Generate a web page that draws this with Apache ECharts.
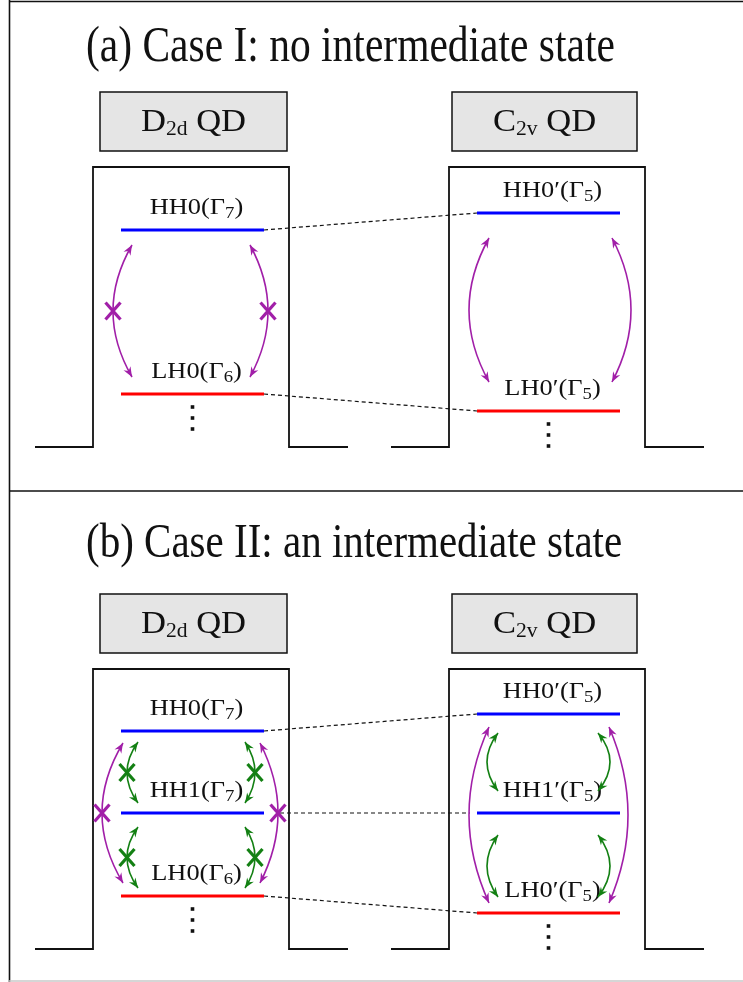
<!DOCTYPE html>
<html>
<head>
<meta charset="utf-8">
<script src="https://cdn.jsdelivr.net/npm/echarts@6/dist/echarts.min.js"></script>
<style>
  html, body { margin: 0; padding: 0; background: #fff; }
  #chart { width: 743px; height: 982px; }
</style>
</head>
<body>
<div id="chart"></div>
<script>
// ---- content ----
const panelTitles = ['(a) Case I: no intermediate state', '(b) Case II: an intermediate state'];
const wellGroup = ['D', 'C'];
const wellGroupSub = ['2d', '2v'];

// confined hole levels: panel, well (0 = D2d, 1 = C2v), name, irreducible rep index, depth
const levelPanel = [0, 0, 0, 0, 1, 1, 1, 1, 1, 1];
const levelWell  = [0, 0, 1, 1, 0, 0, 0, 1, 1, 1];
const levelName  = ['HH0', 'LH0', 'HH0\u2032', 'LH0\u2032', 'HH0', 'HH1', 'LH0', 'HH0\u2032', 'HH1\u2032', 'LH0\u2032'];
const levelGamma = ['7', '6', '5', '5', '7', '7', '6', '5', '5', '5'];
const levelDepth = [230, 394, 213, 411, 229, 311, 394, 212, 311, 411];

// correlation between D2d and C2v levels: [from level, to level, start x, end x]
const connectors = [[0, 2, 264, 477], [1, 3, 264, 477], [4, 7, 264, 477], [5, 8, 280, 470], [6, 9, 264, 477]];

// optical couplings: [panel, tip x, upper tip depth, lower tip depth, arc extreme x, family, forbidden]
const couplings = [
  [0, 132, 245, 377, 113, 'p', 1],
  [0, 250, 245, 377, 268, 'p', 1],
  [0, 489, 238, 382, 469, 'p', 0],
  [0, 612, 238, 382, 631, 'p', 0],
  [1, 138, 240, 301, 127, 'g', 1],
  [1, 138, 325, 386, 127, 'g', 1],
  [1, 245, 240, 301, 255, 'g', 1],
  [1, 245, 325, 386, 255, 'g', 1],
  [1, 123, 241, 381, 102, 'p', 1],
  [1, 260, 241, 381, 278, 'p', 1],
  [1, 498, 231, 289, 487, 'g', 0],
  [1, 498, 333, 395, 487, 'g', 0],
  [1, 598, 231, 289, 610, 'g', 0],
  [1, 598, 333, 395, 610, 'g', 0],
  [1, 489, 225, 401, 469, 'p', 0],
  [1, 609, 225, 401, 628, 'p', 0]
];

// ---- layout & style ----
const W = 743, H = 982;
const panelOffset = [0, 502];
const wellLeft = [93, 449];
const wellWidth = 196;
const wellTop = 167, wellBottom = 447;
const barrierLeft = 58, barrierRight = 59;
const boxLeft = [100, 452], boxRight = [287, 637], boxTop = 92, boxBottom = 151;
const levelInset = 28, levelLength = 143;
const COLORS = { HH: '#0000ff', LH: '#ff0000', p: '#a11fa8', g: '#138013' };
const SERIF = '"Liberation Serif", "Times New Roman", serif';

function seg(api, a, b, style) {
  const p = api.coord(a), q = api.coord(b);
  return { type: 'line', shape: { x1: p[0], y1: p[1], x2: q[0], y2: q[1] }, style: style };
}

function arrowHead(tip, from, color) {
  const dx = tip[0] - from[0], dy = tip[1] - from[1];
  const L = Math.hypot(dx, dy) || 1;
  const ux = dx / L, uy = dy / L, nx = -uy, ny = ux;
  const len = 10, half = 4, notch = 6.8;
  const bx = tip[0] - ux * len, by = tip[1] - uy * len;
  return {
    type: 'polygon',
    shape: { points: [tip, [bx + nx * half, by + ny * half], [tip[0] - ux * notch, tip[1] - uy * notch], [bx - nx * half, by - ny * half]] },
    style: { fill: color }
  };
}

const chart = echarts.init(document.getElementById('chart'), null, { renderer: 'canvas' });

const option = {
  animation: false,
  backgroundColor: '#ffffff',
  grid: { left: 0, right: 0, top: 0, bottom: 0 },
  xAxis: { type: 'value', min: 0, max: W, show: false },
  yAxis: { type: 'value', min: 0, max: H, inverse: true, show: false },
  series: [
    // outer frame and panel divider
    {
      type: 'custom', silent: true, clip: false, data: [[0, 0]],
      renderItem: function (params, api) {
        const s = { stroke: '#111', lineWidth: 1.6 };
        return {
          type: 'group', children: [
            seg(api, [9.5, 0], [9.5, H], s),
            seg(api, [9, 1.5], [W, 1.5], s),
            seg(api, [9, 491], [W, 491], s),
            seg(api, [9, 981], [W, 981], { stroke: '#c8c8c8', lineWidth: 1.5 })
          ]
        };
      }
    },
    // panel titles
    {
      type: 'custom', silent: true, clip: false, data: panelTitles.map(function (t, i) { return [i, 0]; }),
      renderItem: function (params, api) {
        const i = params.dataIndex;
        const p = api.coord([86, 48 + panelOffset[i] - (i ? 6 : 0)]);
        return {
          type: 'text', x: p[0], y: p[1], scaleY: 1.2,
          style: { text: panelTitles[i], font: (i ? '41px ' : '41.5px ') + SERIF, fill: '#111', align: 'left', verticalAlign: 'middle' }
        };
      }
    },
    // symmetry boxes
    {
      type: 'custom', silent: true, clip: false,
      data: [[0, 0], [0, 1], [1, 0], [1, 1]],
      renderItem: function (params, api) {
        const panel = api.value(0), w = api.value(1), off = panelOffset[panel];
        const a = api.coord([boxLeft[w], boxTop + off]), b = api.coord([boxRight[w], boxBottom + off]);
        const c = api.coord([(boxLeft[w] + boxRight[w]) / 2, (boxTop + boxBottom) / 2 + off]);
        return {
          type: 'group', children: [
            { type: 'rect', shape: { x: a[0], y: a[1], width: b[0] - a[0], height: b[1] - a[1] }, style: { fill: '#e5e5e5', stroke: '#111', lineWidth: 1.5 } },
            {
              type: 'text', x: c[0], y: c[1] + 1, scaleX: 1.08,
              style: {
                text: '{b|' + wellGroup[w] + '}{s|' + wellGroupSub[w] + '}{b| QD}',
                align: 'center', verticalAlign: 'middle',
                rich: {
                  b: { fontFamily: SERIF, fontSize: 32, lineHeight: 35, verticalAlign: 'middle', fill: '#111' },
                  s: { fontFamily: SERIF, fontSize: 20, lineHeight: 20, verticalAlign: 'bottom', fill: '#111' }
                }
              }
            }
          ]
        };
      }
    },
    // quantum wells (confinement potential profile)
    {
      type: 'custom', silent: true, clip: false,
      data: [[0, 0], [0, 1], [1, 0], [1, 1]],
      renderItem: function (params, api) {
        const panel = api.value(0), w = api.value(1), off = panelOffset[panel];
        const xl = wellLeft[w], xr = xl + wellWidth;
        const pts = [[xl - barrierLeft, wellBottom + off], [xl, wellBottom + off], [xl, wellTop + off], [xr, wellTop + off], [xr, wellBottom + off], [xr + barrierRight, wellBottom + off]]
          .map(function (q) { return api.coord(q); });
        return { type: 'polyline', shape: { points: pts }, style: { stroke: '#111', lineWidth: 1.8, fill: 'none' } };
      }
    },
    // dashed correlation lines
    {
      type: 'custom', silent: true, clip: false, data: connectors.map(function (c, i) { return [i, 0]; }),
      renderItem: function (params, api) {
        const c = connectors[params.dataIndex];
        const off = panelOffset[levelPanel[c[0]]];
        return seg(api, [c[2], levelDepth[c[0]] + off], [c[3], levelDepth[c[1]] + off], { stroke: '#111', lineWidth: 1.2, lineDash: [4, 3] });
      }
    },
    // energy levels
    {
      type: 'custom', silent: true, clip: false, data: levelDepth.map(function (d, i) { return [i, 0]; }),
      renderItem: function (params, api) {
        const i = params.dataIndex;
        const off = panelOffset[levelPanel[i]], x0 = wellLeft[levelWell[i]] + levelInset;
        const y = levelDepth[i] + off;
        const color = levelName[i].indexOf('HH') === 0 ? COLORS.HH : COLORS.LH;
        const label = api.coord([x0 + levelLength / 2 + 4, y - 22]);
        const children = [
          seg(api, [x0, y], [x0 + levelLength, y], { stroke: color, lineWidth: 3.2 }),
          {
            type: 'text', x: label[0], y: label[1], scaleX: 1.1,
            style: {
              text: '{b|' + levelName[i] + '(\u0393}{s|' + levelGamma[i] + '}{b|)}',
              align: 'center', verticalAlign: 'middle',
              rich: {
                b: { fontFamily: SERIF, fontSize: 24, lineHeight: 28, verticalAlign: 'middle', fill: '#111' },
                s: { fontFamily: SERIF, fontSize: 17, lineHeight: 17, verticalAlign: 'bottom', fill: '#111' }
              }
            }
          }
        ];
        // continuation dots below the lowest level
        if (levelName[i].indexOf('LH') === 0) {
          [13, 24, 35].forEach(function (dy) {
            const d = api.coord([x0 + levelLength / 2, y + dy]);
            children.push({ type: 'rect', shape: { x: d[0] - 1.8, y: d[1] - 1.8, width: 3.6, height: 3.6 }, style: { fill: '#111' } });
          });
        }
        return { type: 'group', children: children };
      }
    },
    // coupling arcs with double arrowheads, crossed when forbidden
    {
      type: 'custom', silent: true, clip: false, data: couplings.map(function (c, i) { return [i, 0]; }),
      renderItem: function (params, api) {
        const c = couplings[params.dataIndex];
        const off = panelOffset[c[0]], x0 = c[1], y0 = c[2] + off, y1 = c[3] + off, xm = c[4];
        const color = COLORS[c[5]];
        const ctrl = (8 * xm - 2 * x0) / 6, h = y1 - y0;
        const P0 = api.coord([x0, y0]), P1 = api.coord([x0, y1]);
        const C1 = api.coord([ctrl, y0 + h / 3]), C2 = api.coord([ctrl, y1 - h / 3]);
        const children = [
          { type: 'bezierCurve', shape: { x1: P0[0], y1: P0[1], x2: P1[0], y2: P1[1], cpx1: C1[0], cpy1: C1[1], cpx2: C2[0], cpy2: C2[1] }, style: { stroke: color, lineWidth: 1.6, fill: 'none' } },
          arrowHead(P0, C1, color),
          arrowHead(P1, C2, color)
        ];
        if (c[6]) {
          const m = [xm, (y0 + y1) / 2];
          const hw = 7.5, hh = 8.5, s = { stroke: color, lineWidth: 3.2 };
          children.push(seg(api, [m[0] - hw, m[1] - hh], [m[0] + hw, m[1] + hh], s));
          children.push(seg(api, [m[0] + hw, m[1] - hh], [m[0] - hw, m[1] + hh], s));
        }
        return { type: 'group', children: children };
      }
    }
  ]
};

chart.setOption(option);
</script>
</body>
</html>
